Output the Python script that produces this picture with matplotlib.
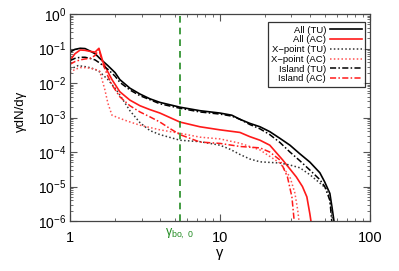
import numpy as np
import matplotlib
matplotlib.use("Agg")
import matplotlib.pyplot as plt
from matplotlib.ticker import LogLocator, NullFormatter, FixedLocator

plt.rcParams['font.family'] = ['Liberation Sans', 'DejaVu Sans']
plt.rcParams['mathtext.fontset'] = 'custom'
plt.rcParams['mathtext.rm'] = 'Liberation Sans'
plt.rcParams['mathtext.it'] = 'Liberation Sans'

# ---- data (gamma, gamma dN/dgamma) ----
g_all_tu = [1, 1.08, 1.17, 1.26, 1.36, 1.47, 1.58, 1.79, 2.0, 2.15, 2.51, 2.93, 3.41, 3.98,
            5.41, 7.36, 10.0, 12.0, 13.6, 15.8, 18.5, 21.5, 25.1, 29.3, 34.1, 39.8, 46.4,
            50.0, 54.1, 55.9, 58.5]
v_all_tu = [7.9e-2, 9.5e-2, 1.02e-1, 1.0e-1, 8.5e-2, 7.1e-2, 5.2e-2, 3.2e-2, 2.0e-2, 1.26e-2,
            7.1e-3, 4.8e-3, 3.5e-3, 2.75e-3, 2.0e-3, 1.58e-3, 1.35e-3, 1.17e-3, 8.9e-4,
            6.8e-4, 5.4e-4, 3.9e-4, 2.5e-4, 1.58e-4, 8.9e-5, 5.1e-5, 2.5e-5, 1.35e-5,
            6.3e-6, 2.5e-6, 6.3e-7]

g_all_ac = [1, 1.08, 1.17, 1.26, 1.36, 1.47, 1.56, 1.66, 1.79, 1.905, 2.15, 2.51, 2.93, 3.41,
            3.98, 5.41, 7.36, 10.0, 13.6, 15.8, 18.5, 21.5, 26.2, 32.3, 35.5, 38.0, 39.8, 41.1]
v_all_ac = [4.5e-2, 7.1e-2, 9.1e-2, 8.9e-2, 8.3e-2, 7.9e-2, 1.02e-1, 4.1e-2, 2.1e-2, 1.26e-2,
            5.6e-3, 3.2e-3, 2.2e-3, 1.7e-3, 1.35e-3, 7.4e-4, 5.4e-4, 4.4e-4, 3.7e-4, 2.8e-4,
            2.2e-4, 1.58e-4, 5.9e-5, 1.9e-5, 1.0e-5, 5.0e-6, 1.6e-6, 6.3e-7]

g_x_tu = [1, 1.13, 1.26, 1.36, 1.47, 1.58, 1.79, 2.0, 2.15, 2.51, 2.93, 3.41, 3.98, 5.41,
          7.36, 10.0, 11.7, 13.6, 15.8, 18.5, 21.5, 25.1, 29.3, 34.1, 39.8, 46.4, 52.5, 55.2, 57.0]
v_x_tu = [2.5e-2, 3.2e-2, 3.0e-2, 2.8e-2, 2.5e-2, 2.1e-2, 1.26e-2, 7.1e-3, 4.5e-3, 1.58e-3,
          7.1e-4, 4.2e-4, 3.2e-4, 2.2e-4, 2.0e-4, 1.58e-4, 1.2e-4, 8.5e-5, 6.3e-5, 5.2e-5,
          5.0e-5, 4.8e-5, 4.2e-5, 3.5e-5, 2.2e-5, 1.26e-5, 7.9e-6, 2.5e-6, 6.3e-7]

g_x_ac = [1, 1.08, 1.17, 1.26, 1.36, 1.47, 1.58, 1.71, 1.79, 1.905, 2.08, 2.41, 2.93, 3.98,
          5.41, 7.36, 10.0, 13.6, 18.5, 25.1, 29.3, 31.6, 33.0, 34.1]
v_x_ac = [2.0e-2, 2.5e-2, 2.8e-2, 2.8e-2, 2.7e-2, 2.5e-2, 2.2e-2, 6.3e-3, 2.6e-3, 1.17e-3,
          1.0e-3, 7.9e-4, 6.0e-4, 4.4e-4, 3.5e-4, 2.7e-4, 2.4e-4, 1.8e-4, 1.15e-4, 4.8e-5,
          1.9e-5, 6.5e-6, 2.1e-6, 6.3e-7]

g_isl_tu = [1, 1.08, 1.17, 1.26, 1.36, 1.47, 1.58, 1.79, 2.0, 2.15, 2.51, 2.93, 3.41, 3.98,
            5.41, 7.36, 10.0, 12.0, 13.6, 15.8, 18.5, 21.5, 25.1, 29.3, 34.1, 39.8, 46.4,
            50.0, 54.1, 56.2]
v_isl_tu = [4.5e-2, 5.2e-2, 5.6e-2, 5.6e-2, 5.2e-2, 4.7e-2, 3.8e-2, 2.5e-2, 1.58e-2, 1.05e-2,
            6.3e-3, 4.3e-3, 3.3e-3, 2.5e-3, 1.86e-3, 1.45e-3, 1.26e-3, 1.1e-3, 8.9e-4, 6.3e-4,
            4.7e-4, 3.2e-4, 1.9e-4, 1.0e-4, 5.6e-5, 3.0e-5, 1.58e-5, 1.0e-5, 4.0e-6, 6.3e-7]

g_isl_ac = [1, 1.08, 1.17, 1.26, 1.36, 1.47, 1.56, 1.66, 1.79, 1.905, 2.15, 2.51, 2.93, 3.41,
            3.98, 4.64, 5.41, 7.36, 10.0, 13.6, 18.5, 21.5, 25.1, 28.2, 30.2, 31.6]
v_isl_ac = [3.5e-2, 4.2e-2, 4.7e-2, 5.0e-2, 5.2e-2, 6.3e-2, 9.5e-2, 3.5e-2, 1.58e-2, 8.9e-3,
            4.0e-3, 2.2e-3, 1.45e-3, 1.05e-3, 7.4e-4, 4.8e-4, 3.2e-4, 1.95e-4, 1.78e-4,
            1.45e-4, 1.32e-4, 1.0e-4, 5.9e-5, 1.9e-5, 5.0e-6, 6.3e-7]

g_bo0 = 5.4

fig = plt.figure(figsize=(3.99, 2.71), dpi=100)
ax = fig.add_axes([0.1754, 0.1845, 0.927 - 0.1754, 0.948 - 0.1845])

red = '#ff1a1a'
ax.plot(g_all_tu, v_all_tu, color='black', lw=1.2, ls='-', label='All (TU)')
ax.plot(g_all_ac, v_all_ac, color=red, lw=1.2, ls='-', label='All (AC)')
ax.plot(g_x_tu, v_x_tu, color='#333333', lw=1.1, ls=(0, (1, 1.5)), label='X\u2212point (TU)')
ax.plot(g_x_ac, v_x_ac, color='#ff5050', lw=1.1, ls=(0, (1, 1.5)), label='X\u2212point (AC)')
ax.plot(g_isl_tu, v_isl_tu, color='black', lw=1.1, ls=(0, (4, 1.5, 1, 1.5)), label='Island (TU)')
ax.plot(g_isl_ac, v_isl_ac, color=red, lw=1.1, ls=(0, (4, 1.5, 1, 1.5)), label='Island (AC)')

ax.axvline(g_bo0, color='#228B22', lw=1.2, ls=(0, (4, 3)))

ax.set_xscale('log')
ax.set_yscale('log')
ax.set_xlim(1, 100)
ax.set_ylim(1e-6, 1)

ax.xaxis.set_major_locator(FixedLocator([1, 10, 100]))
ax.set_xticklabels(['1', '10', '100'])
ax.xaxis.set_minor_locator(LogLocator(base=10, subs=np.arange(2, 10)))
ax.xaxis.set_minor_formatter(NullFormatter())
ax.yaxis.set_major_locator(FixedLocator([1e-6, 1e-5, 1e-4, 1e-3, 1e-2, 1e-1, 1]))
ax.set_yticklabels([r'$10^{-6}$', r'$10^{-5}$', r'$10^{-4}$', r'$10^{-3}$', r'$10^{-2}$',
                    r'$10^{-1}$', r'$10^{0}$'])
ax.yaxis.set_minor_locator(LogLocator(base=10, subs=np.arange(2, 10), numticks=20))
ax.yaxis.set_minor_formatter(NullFormatter())

ax.tick_params(which='both', direction='in', top=True, right=True, color='#555555')
ax.tick_params(which='major', length=5, width=0.8)
ax.tick_params(which='minor', length=2.5, width=0.6)
ax.tick_params(axis='x', which='major', labelsize=10.5, pad=7)
ax.tick_params(axis='y', which='major', labelsize=10, pad=2.5)
for s in ax.spines.values():
    s.set_linewidth(0.9)
    s.set_color('#444444')

ax.set_xlabel('\u03b3', fontsize=10.5, labelpad=1)
ax.set_ylabel('\u03b3dN/d\u03b3', fontsize=9.5)
ax.yaxis.set_label_coords(-0.145, 0.53)

ax.text(g_bo0, -0.028, r'$\gamma_{\rm bo,\ 0}$', transform=ax.get_xaxis_transform(),
        ha='center', va='top', color='#228B22', fontsize=9)

leg = ax.legend(loc='upper right', bbox_to_anchor=(0.985, 0.96), fontsize=6.8,
                markerfirst=False, frameon=True, fancybox=False, handlelength=3.4,
                handletextpad=0.4, labelspacing=0.08, borderpad=0.35, borderaxespad=0)
leg.get_frame().set_edgecolor('black')
leg.get_frame().set_linewidth(0.9)
for t in leg.get_texts():
    t.set_ha('right')
leg._legend_box.align = 'right'

fig.savefig('out.png', dpi=100)
